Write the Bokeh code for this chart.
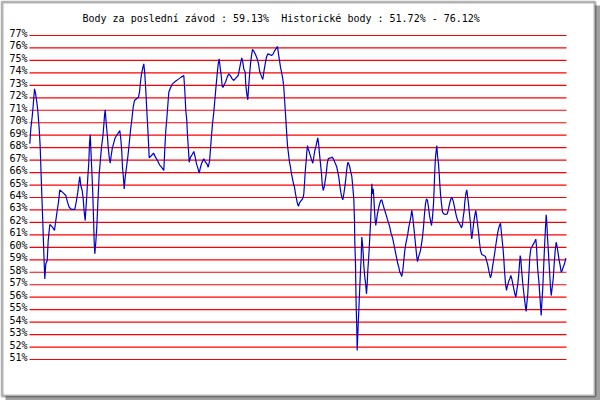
from bokeh.plotting import figure
from bokeh.models import Range1d, BoxAnnotation, ColumnDataSource
from bokeh.core.properties import value
from bokeh.embed import file_html
from bokeh.resources import INLINE

# ---------------- data ----------------
title_text = "Body za poslední závod : 59.13%\u00a0 Historické body : 51.72% - 76.12%"

levels = list(range(51, 78))
level_labels = [f"{v}%" for v in levels]
race_span = (0, 537)

race = [0.3, 1.3, 2.7, 3.7, 5.0, 6.0, 7.3, 8.3, 9.7, 10.7, 11.7, 12.7, 13.7, 14.7, 15.3, 16.3, 17.7, 18.7, 20.3, 23.0,
        25.0, 26.3, 27.7, 29.0, 30.3, 33.7, 36.3, 38.0, 39.7, 42.0, 45.3, 47.0, 48.3, 49.7, 50.3, 51.3, 52.7, 53.7, 54.7, 55.7,
        56.3, 57.3, 58.3, 59.3, 60.0, 60.7, 61.3, 62.3, 63.3, 64.0, 64.7, 65.3, 66.3, 67.3, 68.3, 69.7, 71.0, 72.0, 73.3, 74.3,
        75.0, 75.7, 76.3, 77.0, 78.0, 78.7, 79.7, 80.7, 81.7, 82.7, 84.0, 85.3, 87.0, 88.7, 90.3, 91.3, 92.3, 93.0, 94.0, 94.7,
        95.7, 97.0, 98.3, 99.7, 101.0, 102.3, 103.7, 105.0, 107.0, 109.0, 110.0, 111.0, 112.0, 113.3, 114.3, 115.3, 116.3, 117.3, 118.3, 119.3,
        119.7, 122.0, 124.0, 126.0, 128.0, 130.0, 132.0, 134.3, 135.3, 136.3, 137.3, 138.3, 139.3, 141.0, 143.0, 146.0, 149.3, 151.7, 154.3, 155.3,
        156.3, 157.3, 158.0, 159.0, 159.7, 161.0, 162.7, 164.3, 165.7, 167.0, 168.3, 169.7, 171.0, 172.3, 174.3, 176.0, 177.7, 178.7, 180.0, 181.0,
        182.0, 183.0, 184.3, 185.3, 186.3, 187.7, 188.7, 189.7, 190.7, 191.7, 192.7, 193.7, 194.7, 196.0, 197.7, 199.3, 201.0, 202.7, 204.3, 206.3,
        208.7, 210.0, 211.3, 212.3, 213.3, 214.3, 215.7, 216.3, 217.3, 218.3, 219.0, 220.0, 221.0, 222.0, 223.0, 224.3, 226.0, 227.7, 229.0, 230.0,
        231.0, 232.3, 233.3, 234.3, 235.7, 237.0, 238.3, 240.3, 242.0, 243.7, 245.3, 247.0, 248.0, 249.0, 250.0, 251.0, 252.0, 253.3, 254.3, 255.0,
        256.0, 257.0, 258.0, 259.0, 260.0, 261.0, 262.0, 263.0, 264.0, 265.0, 266.0, 267.0, 268.0, 269.0, 270.0, 271.3, 272.7, 273.7, 274.3, 275.0,
        275.7, 276.7, 277.3, 278.0, 278.7, 279.3, 280.3, 281.3, 282.3, 283.3, 284.3, 285.3, 286.3, 287.3, 288.3, 289.3, 290.0, 291.0, 292.0, 292.7,
        293.7, 294.7, 295.7, 296.7, 297.7, 298.7, 300.0, 301.3, 302.7, 304.0, 305.3, 306.3, 307.3, 308.3, 309.3, 310.3, 311.3, 312.3, 313.3, 314.3,
        315.3, 316.3, 317.3, 318.3, 319.3, 320.3, 321.3, 322.3, 323.3, 324.3, 325.0, 325.3, 326.0, 326.3, 326.7, 327.3, 327.7, 328.0, 328.7, 329.3,
        330.0, 331.0, 331.7, 332.3, 333.0, 333.7, 334.3, 335.3, 336.3, 337.0, 337.7, 338.3, 339.0, 339.7, 340.3, 341.0, 341.7, 342.3, 343.0, 343.7,
        344.3, 345.0, 345.7, 346.3, 347.0, 347.7, 348.3, 349.3, 350.3, 351.3, 352.3, 353.3, 354.3, 355.3, 356.3, 357.3, 358.3, 359.3, 360.3, 361.3,
        362.3, 363.3, 364.3, 365.3, 366.3, 367.3, 368.3, 369.3, 370.3, 371.3, 372.3, 373.3, 374.3, 375.3, 376.3, 377.3, 378.3, 379.3, 380.3, 381.3,
        382.3, 383.3, 384.3, 385.3, 386.3, 387.3, 388.0, 389.0, 390.0, 391.0, 392.0, 393.0, 394.0, 395.0, 396.0, 397.0, 398.0, 399.0, 400.0, 401.0,
        402.0, 403.0, 404.0, 404.7, 405.3, 406.0, 406.7, 407.3, 408.0, 409.0, 409.7, 410.3, 411.0, 412.0, 413.0, 414.3, 416.0, 417.7, 418.7, 419.7,
        420.7, 422.0, 423.0, 424.0, 425.0, 426.0, 427.0, 428.0, 429.0, 430.0, 431.0, 432.0, 433.0, 433.7, 434.7, 435.3, 436.3, 437.3, 438.0, 439.0,
        440.0, 441.0, 441.7, 442.3, 443.3, 444.3, 445.3, 446.3, 447.0, 448.0, 449.0, 450.0, 451.0, 452.3, 454.3, 456.0, 457.0, 458.0, 459.0, 460.0,
        461.0, 462.0, 463.0, 464.0, 465.0, 466.0, 467.0, 468.0, 469.0, 470.0, 471.0, 471.7, 472.7, 473.7, 474.3, 475.0, 476.0, 477.0, 478.0, 479.3,
        480.3, 481.3, 482.3, 483.3, 484.3, 485.3, 486.3, 487.3, 488.3, 489.3, 490.0, 490.7, 491.3, 492.0, 493.0, 494.0, 495.0, 496.0, 496.7, 497.3,
        498.3, 499.0, 499.7, 500.3, 501.3, 502.7, 504.0, 505.3, 506.3, 507.0, 507.7, 508.3, 509.3, 510.0, 511.0, 511.7, 512.3, 513.3, 514.3, 515.0,
        516.0, 516.7, 517.3, 518.0, 519.0, 520.0, 521.0, 521.7, 522.7, 523.7, 524.7, 525.7, 526.7, 527.7, 528.7, 529.7, 530.7, 531.7, 532.7, 533.7,
        535.0, 536.3]

pct = [68.31, 69.51, 70.50, 71.38, 72.72, 72.37, 71.65, 70.98, 69.51, 68.04, 65.63, 63.36, 61.08, 58.68, 57.47, 58.68, 58.94, 60.55, 61.83, 61.62,
       61.35, 62.15, 62.96, 63.63, 64.61, 64.37, 64.16, 63.63, 63.22, 63.04, 63.04, 63.76, 64.43, 65.36, 65.68, 64.96, 64.56, 63.89, 62.82, 62.15,
       62.96, 64.16, 65.63, 66.83, 68.31, 69.03, 68.04, 66.17, 64.29, 62.42, 60.41, 59.48, 60.41, 61.62, 63.49, 65.90, 67.10, 68.04, 68.84, 69.78,
       70.58, 71.03, 70.39, 69.70, 68.84, 68.04, 67.24, 66.75, 67.37, 67.90, 68.31, 68.71, 68.97, 69.16, 69.38, 68.71, 67.64, 66.43, 65.50, 64.69,
       65.63, 66.43, 67.24, 68.31, 69.38, 70.23, 71.25, 71.78, 71.92, 72.05, 72.45, 73.25, 73.92, 74.40, 74.72, 73.92, 72.59, 70.98, 69.51, 67.90,
       67.18, 67.37, 67.56, 67.24, 66.97, 66.62, 66.43, 66.17, 67.90, 69.38, 70.31, 71.38, 72.45, 72.80, 73.12, 73.33, 73.52, 73.66, 73.79, 72.59,
       70.98, 70.18, 68.97, 67.77, 66.83, 67.24, 67.45, 67.69, 67.24, 66.70, 66.38, 65.95, 66.43, 66.78, 67.10, 66.83, 66.65, 66.43, 66.89, 67.90,
       68.97, 69.91, 70.85, 71.78, 72.72, 73.92, 74.72, 75.13, 74.40, 73.79, 72.91, 72.85, 73.07, 73.25, 73.66, 73.92, 73.76, 73.52, 73.39, 73.58,
       73.79, 74.32, 74.86, 75.21, 74.86, 74.32, 74.06, 72.99, 72.32, 71.84, 72.72, 73.79, 74.72, 75.39, 75.88, 75.74, 75.47, 75.13, 74.72, 74.19,
       73.92, 73.66, 73.47, 74.06, 74.72, 75.26, 75.53, 75.47, 75.39, 75.53, 75.79, 76.01, 76.12, 75.53, 74.99, 74.46, 74.06, 73.52, 72.85, 71.92,
       70.71, 69.38, 68.17, 67.50, 66.83, 66.43, 65.90, 65.50, 65.10, 64.83, 64.29, 63.89, 63.49, 63.30, 63.57, 63.70, 63.84, 64.03, 64.29, 65.10,
       66.03, 66.97, 67.64, 68.17, 67.90, 67.77, 67.50, 67.24, 66.97, 66.75, 67.24, 67.77, 68.04, 68.44, 68.79, 68.17, 67.50, 66.70, 65.90, 65.10,
       64.56, 64.83, 65.36, 65.90, 66.70, 67.10, 67.16, 67.18, 67.24, 67.08, 66.83, 66.65, 66.43, 66.03, 65.63, 64.96, 64.43, 64.03, 63.81, 64.29,
       64.83, 65.50, 66.30, 66.83, 66.70, 66.43, 66.03, 65.71, 64.83, 63.89, 62.15, 60.41, 58.68, 56.94, 55.20, 53.46, 51.72, 52.39, 53.86, 54.93,
       56.27, 58.14, 59.21, 60.82, 60.28, 59.48, 58.54, 57.61, 56.94, 56.27, 57.07, 58.14, 58.94, 59.88, 60.82, 61.89, 63.36, 65.10, 64.29, 64.69,
       64.03, 62.96, 62.15, 61.75, 62.15, 62.56, 62.82, 63.22, 63.54, 63.76, 63.81, 63.49, 63.22, 62.96, 62.69, 62.42, 62.15, 61.89, 61.62, 61.22,
       60.95, 60.68, 60.28, 59.88, 59.48, 59.08, 58.68, 58.41, 58.01, 57.87, 57.66, 58.14, 58.94, 59.75, 60.28, 60.68, 61.08, 61.62, 62.02, 62.42,
       62.96, 62.42, 61.62, 60.82, 60.01, 59.21, 58.86, 59.21, 59.48, 59.75, 60.28, 60.82, 61.62, 62.69, 63.49, 63.89, 63.76, 63.22, 62.56, 62.15,
       61.75, 62.42, 63.49, 64.83, 66.17, 67.24, 67.77, 68.17, 67.37, 66.70, 65.90, 65.10, 64.29, 63.49, 62.82, 62.69, 62.64, 62.69, 62.96, 63.36,
       63.70, 64.03, 63.89, 63.63, 63.22, 62.82, 62.47, 62.20, 62.02, 61.89, 61.75, 61.56, 61.83, 62.42, 62.96, 63.63, 64.29, 64.61, 64.16, 63.49,
       62.69, 61.89, 61.08, 60.68, 61.35, 62.02, 62.56, 62.96, 62.56, 61.89, 61.22, 60.41, 59.75, 59.43, 59.34, 59.26, 58.94, 58.68, 58.27, 57.87,
       57.55, 57.87, 58.41, 58.94, 59.43, 60.01, 60.55, 61.08, 61.48, 61.75, 61.94, 61.35, 60.55, 59.75, 59.08, 58.14, 57.07, 56.54, 56.94, 57.29,
       57.47, 57.74, 57.47, 57.07, 56.67, 56.27, 56.00, 56.54, 57.07, 57.87, 58.68, 59.34, 59.08, 58.27, 57.34, 56.54, 55.87, 55.20, 54.85, 55.47,
       56.27, 57.34, 58.27, 59.21, 59.88, 60.09, 60.28, 60.47, 60.66, 60.07, 58.94, 58.14, 57.34, 56.54, 55.33, 54.53, 55.47, 56.80, 58.68, 60.01,
       61.62, 62.61, 62.02, 60.82, 59.48, 58.14, 56.80, 56.13, 56.80, 57.47, 58.68, 59.75, 60.41, 60.01, 59.48, 58.94, 58.54, 58.01, 58.14, 58.41,
       58.68, 59.13]

# ---------------- layout (pixels inside the figure) ----------------
W, H = 600, 400
PX_PER_RACE = 1.0
GRID_LEFT_PX = 29.0           # where race 0 sits
PX_PER_PCT = 324.0 / 26.0
TOP_LEVEL_PX = 35.0           # where the 77 % line sits

x0 = race_span[0] - GRID_LEFT_PX / PX_PER_RACE
x1 = x0 + W / PX_PER_RACE
y1 = levels[-1] + TOP_LEVEL_PX / PX_PER_PCT
y0 = y1 - H / PX_PER_PCT


def fx(px):
    return x0 + px / PX_PER_RACE


def fy(py):
    return y1 - py / PX_PER_PCT


p = figure(width=W, height=H, x_range=Range1d(x0, x1), y_range=Range1d(y0, y1),
           output_backend="svg", toolbar_location=None,
           x_axis_type=None, y_axis_type=None, min_border=0,
           outline_line_color=None)
p.background_fill_color = "white"
p.border_fill_color = "white"

# frame with drop shadow
shadow = BoxAnnotation(left=fx(5), right=fx(W), top=fy(5), bottom=fy(H),
                       fill_color="#a0a0a0", fill_alpha=1.0, line_color=None, level="underlay")
frame_box = BoxAnnotation(left=fx(1.5), right=fx(W - 5.5), top=fy(1.5), bottom=fy(H - 4.5),
                          fill_color="white", fill_alpha=1.0, line_color="black", line_width=3,
                          level="underlay")
p.add_layout(shadow)
p.add_layout(frame_box)

# horizontal red lines
grid_src = ColumnDataSource(dict(x0=[race_span[0]] * len(levels), x1=[race_span[1]] * len(levels),
                                 y=levels, lab=level_labels))
p.segment(x0="x0", x1="x1", y0="y", y1="y", source=grid_src, line_color="#ff0000", line_width=1.2)

# level labels
p.text(x=fx(27), y="y", text="lab", source=grid_src, text_font=value("DejaVu Sans Mono"),
       text_font_size="10px", text_align="right", text_baseline="alphabetic",
       y_offset=-2, text_color="black")

# data line
p.line(race, pct, line_color="#0000cc", line_width=1.2)

# title
p.text(x=[fx(82)], y=[fy(17.5)], text=[title_text], text_font=value("DejaVu Sans Mono"),
       text_font_size="10px", text_align="left", text_baseline="alphabetic", text_color="black")

open("out.html", "w").write(file_html(p, INLINE))
